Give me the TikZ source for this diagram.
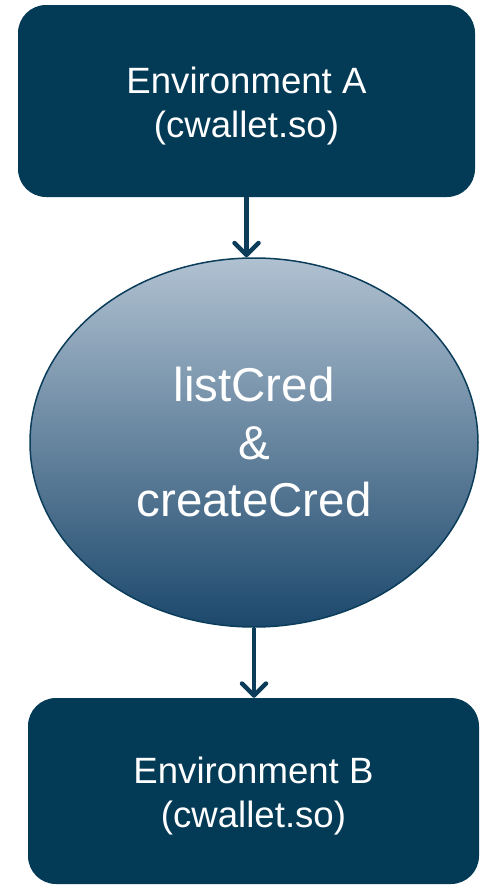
\documentclass[tikz,border=0pt]{standalone}
\usepackage{fontspec}
\setmainfont{Liberation Sans}
\usetikzlibrary{arrows.meta,shapes.geometric}
\definecolor{boxnavy}{RGB}{3,58,86}
\definecolor{edgenavy}{RGB}{11,61,91}
\definecolor{elltop}{RGB}{176,193,209}
\definecolor{ellmid}{RGB}{134,152,172}
\definecolor{ellbot}{RGB}{28,72,108}
\tikzset{
  envbox/.style={draw=none, fill=boxnavy, rounded corners=28pt, inner sep=0pt},
  envtext/.style={text=white, align=center, yshift=-5pt,
    font=\fontsize{36.6}{44}\selectfont},
  procell/.style={ellipse, draw=edgenavy, line width=1.5pt, inner sep=0pt,
    top color=elltop, middle color=ellmid, bottom color=ellbot,
    minimum width=448pt, minimum height=369pt,
    text=white, align=center, font=\fontsize{47.5}{57.5}\selectfont},
  flow/.style={draw=edgenavy, line width=4.5pt,
    -{Straight Barb[length=12pt,width=24pt,line cap=round,line join=round]}}
}
\begin{document}
\begin{tikzpicture}[x=1pt,y=-1pt]
\useasboundingbox (0,0) rectangle (481,887);
\node[envbox, minimum width=457pt, minimum height=192pt,
  label={[envtext]center:Environment A\\(cwallet.so)}] (a) at (246.5,101) {};
\node[procell] (e) at (254,442.5) {listCred\\\&\\createCred};
\node[envbox, minimum width=451pt, minimum height=186pt,
  label={[envtext]center:Environment B\\(cwallet.so)}] (b) at (253.5,791) {};
\draw[flow] (a.south) -- (a.south |- e.north);
\draw[flow] (e.south) -- (e.south |- b.north);
\end{tikzpicture}
\end{document}
